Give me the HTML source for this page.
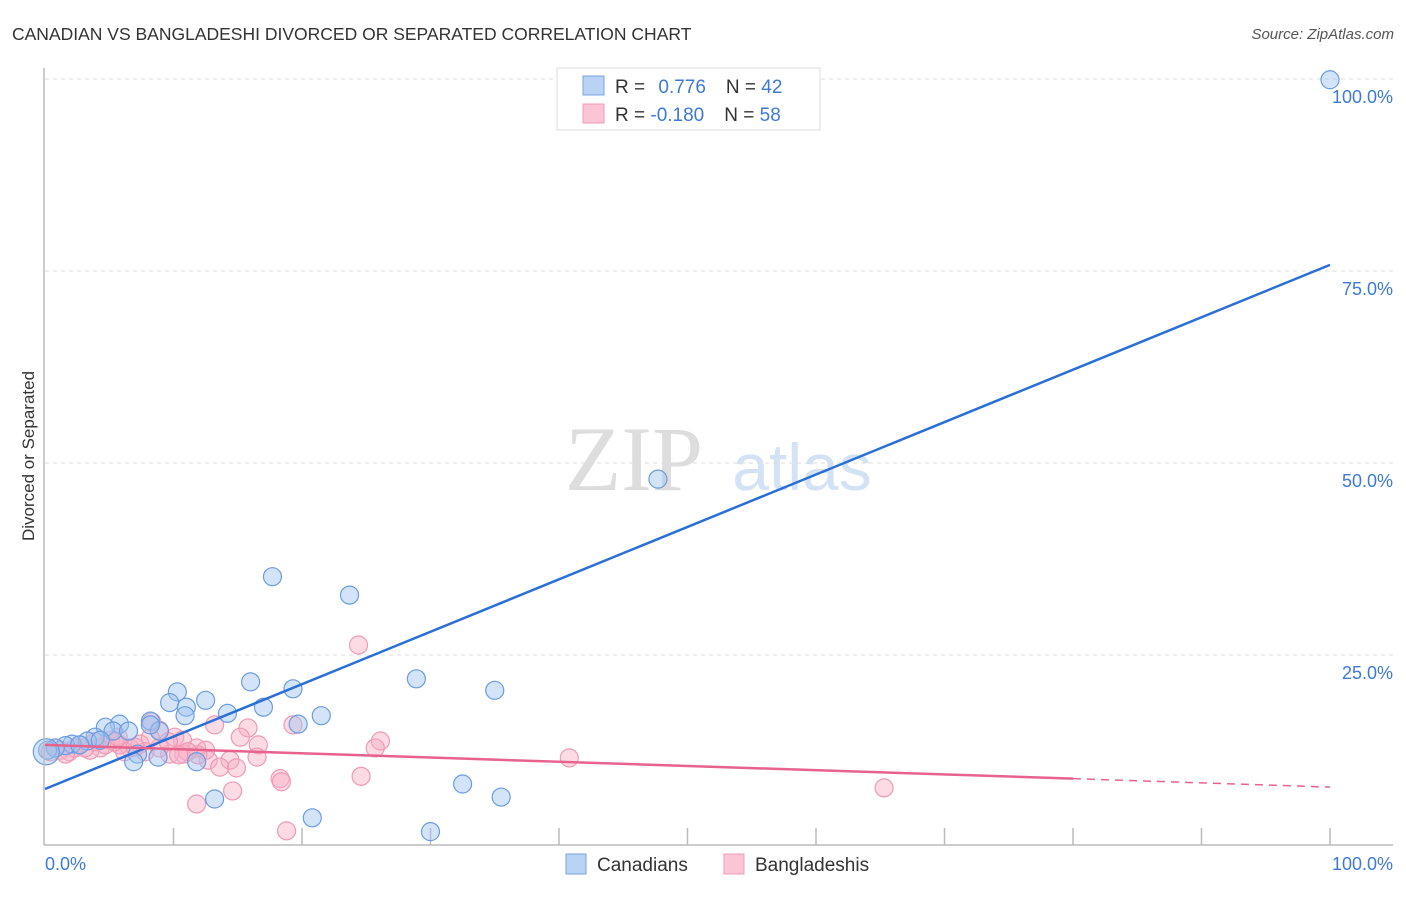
<!DOCTYPE html>
<html><head><meta charset="utf-8"><style>
body{margin:0;background:#fff;font-family:"Liberation Sans",sans-serif}
</style></head><body>
<svg width="1406" height="892" xmlns="http://www.w3.org/2000/svg" id="chart">
<text x="12" y="40" font-size="17.5" fill="#333">CANADIAN VS BANGLADESHI DIVORCED OR SEPARATED CORRELATION CHART</text>
<text x="1394" y="39" font-size="15" fill="#555" font-style="italic" text-anchor="end">Source: ZipAtlas.com</text>
<text x="634" y="490" font-size="92" fill="#ddd" font-family="Liberation Serif,serif" text-anchor="middle">ZIP</text>
<text x="802" y="490" font-size="66" fill="#d3e2f5" text-anchor="middle">atlas</text>
<text transform="translate(34,456) rotate(-90)" font-size="17" fill="#333" text-anchor="middle">Divorced or Separated</text>
<g id="grid"></g><g id="pts"></g><g id="lines"></g>
<line x1="44" y1="68" x2="44" y2="845" stroke="#bbb" stroke-width="1.5"/>
<line x1="44" y1="845" x2="1393" y2="845" stroke="#bbb" stroke-width="1.5"/>
<text x="45" y="870" font-size="18" fill="#3d7ad6">0.0%</text>
<text x="1393" y="870" font-size="18" fill="#3d7ad6" text-anchor="end">100.0%</text>
<g>
<rect x="557" y="68" width="263" height="62" fill="#fff" stroke="#ddd"/>
<rect x="583" y="76" width="21" height="19" fill="#b9d3f5" stroke="#7aa6e0"/>
<rect x="583" y="104" width="21" height="19" fill="#fbc5d5" stroke="#f09ab5"/>
<text x="615" y="93" font-size="19" fill="#333">R = <tspan fill="#3d7ad6" dx="8">0.776</tspan><tspan dx="20" fill="#333">N = </tspan><tspan fill="#3d7ad6">42</tspan></text>
<text x="615" y="121" font-size="19" fill="#333">R = <tspan fill="#3d7ad6">-0.180</tspan><tspan dx="20" fill="#333">N = </tspan><tspan fill="#3d7ad6">58</tspan></text>
</g>
<g><rect x="566" y="854" width="20" height="20" fill="#b9d3f5" stroke="#7aa6e0"/><text x="597" y="871" font-size="19" fill="#333">Canadians</text></g>
<g><rect x="724" y="854" width="20" height="20" fill="#fbc5d5" stroke="#f09ab5"/><text x="755" y="871" font-size="19" fill="#333">Bangladeshis</text></g>
</svg>
<script>
const yTicks=[25,50,75,100];
const yTickLabels=["25.0%","50.0%","75.0%","100.0%"];
const canX=[100,47.7,17.7,23.7,16.0,10.3,28.9,19.3,35.0,12.5,9.7,11.0,17.0,14.2,10.9,21.5,19.7,8.2,5.8,4.7,5.3,8.9,6.5,3.9,3.3,2.1,1.6,0.8,0.2,2.7,4.3,7.2,6.9,8.8,11.8,13.2,32.5,35.5,20.8,30.0,8.2,0.1];
const canY=[99.9,47.9,35.2,32.8,21.5,20.2,21.9,20.6,20.4,19.1,18.8,18.2,18.2,17.4,17.1,17.1,16.0,16.4,16.0,15.6,15.1,15.1,15.1,14.3,13.8,13.4,13.2,12.9,12.6,13.3,13.9,12.1,11.1,11.7,11.1,6.25,8.2,6.5,3.8,2.0,15.9,12.4];
const banX=[24.4,13.2,19.3,15.8,8.3,8.9,10.1,10.7,11.8,15.2,16.6,26.1,25.7,14.4,16.5,10.8,9.7,12.7,13.6,14.9,24.6,18.3,18.4,14.6,11.8,18.8,40.8,65.3,5.1,5.8,6.6,4.3,3.5,2.7,1.9,1.2,0.4,7.4,8.9,8.2,6.2,5.4,4.7,3.9,3.1,2.3,1.6,0.8,11.9,11.1,9.6,7.8,7.0,10.4,12.5,5.7];
const banY=[26.3,15.9,15.9,15.5,16.3,15.2,14.3,13.9,12.9,14.3,13.3,13.8,12.9,11.3,11.7,12.1,12.1,11.3,10.4,10.3,9.2,8.9,8.5,7.3,5.6,2.1,11.6,7.7,13.9,13.3,12.9,12.9,12.6,13.3,12.4,12.6,12.4,13.4,12.9,14.2,12.4,13.7,13.3,13.7,12.9,12.9,12.1,12.9,12.0,12.4,13.7,12.4,13.0,12.0,12.6,14.3];
const canTrend=[7.55,75.8];
const banTrend=[13.3,7.8];
const banSolidEnd=80;
const NS="http://www.w3.org/2000/svg";
const sx=v=>45+v*12.85, sy=v=>847-v*7.68;
function mk(t,a,p){const e=document.createElementNS(NS,t);for(const k in a)e.setAttribute(k,a[k]);p.appendChild(e);return e;}
const grid=document.getElementById('grid');
yTicks.forEach((t,i)=>{
 const l=mk('line',{x1:45,x2:1393,y1:sy(t),y2:sy(t),stroke:'#ddd','stroke-dasharray':'4,4'},grid);
 
 
 const tx=mk('text',{x:1393,y:sy(t)+24,'font-size':18,fill:'#3d7ad6','text-anchor':'end'},grid);
 tx.textContent=yTickLabels[i];
 
 
});
for(let i=1;i<=10;i++){
 const l=mk('line',{x1:sx(i*10),x2:sx(i*10),y1:828,y2:845,stroke:'#bbb','stroke-width':1.5},grid);
 
 
}
const pts=document.getElementById('pts');
banX.forEach((x,i)=>{
 const c=mk('circle',{cx:sx(x),cy:sy(banY[i]),r:9,fill:'rgba(248,175,198,0.45)',stroke:'#f09ab5','stroke-width':1.2},pts);
 
 
});
canX.forEach((x,i)=>{
 const c=mk('circle',{cx:sx(x),cy:sy(canY[i]),r:(i==canX.length-1?13:9),fill:'rgba(160,196,240,0.45)',stroke:'#6a9de0','stroke-width':1.2},pts);
 
 
});
const lines=document.getElementById('lines');
const b=mk('line',{x1:sx(0),y1:sy(canTrend[0]),x2:sx(100),y2:sy(canTrend[1]),stroke:'#2a6fd6','stroke-width':2.5},lines);


const by=x=>banTrend[0]+(banTrend[1]-banTrend[0])*x/100;
const p1=mk('line',{x1:sx(0),y1:sy(by(0)),x2:sx(banSolidEnd),y2:sy(by(banSolidEnd)),stroke:'#e8628e','stroke-width':2.5},lines);


const p2=mk('line',{x1:sx(banSolidEnd),y1:sy(by(banSolidEnd)),x2:sx(100),y2:sy(by(100)),stroke:'#e8628e','stroke-width':1.5,'stroke-dasharray':'8,6'},lines);


</script>
</body></html>
